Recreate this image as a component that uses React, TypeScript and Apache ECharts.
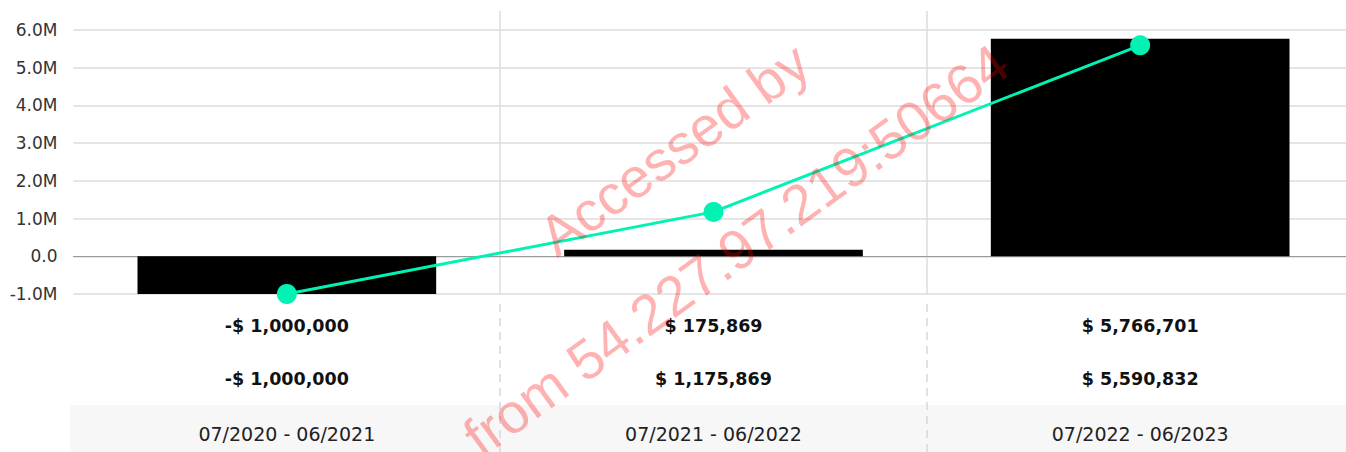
import React, { useEffect, useRef } from 'react';
import * as echarts from 'echarts';

const periods = ['07/2020 - 06/2021', '07/2021 - 06/2022', '07/2022 - 06/2023'];
const periodValues = [-1000000, 175869, 5766701];
const cumulativeValues = [-1000000, 1175869, 5590832];
const watermarkLines = ['Accessed by', 'from 54.227.97.219:50664'];

const fmtMoney = (v: number) =>
  (v < 0 ? '-' : '') + '$ ' + Math.abs(v).toLocaleString('en-US');

const fmtAxis = (v: number) => (v === 0 ? '0.0' : (v / 1e6).toFixed(1) + 'M');

const FONT = '"DejaVu Sans", sans-serif';

export default function App() {
  const ref = useRef<HTMLDivElement>(null);

  useEffect(() => {
    if (!ref.current) return;
    const chart = echarts.init(ref.current, undefined, { renderer: 'svg' });
    const deg = (d: number) => (d * Math.PI) / 180;
    chart.setOption({
      animation: false,
      backgroundColor: '#ffffff',
      grid: [
        { left: 73.5, width: 1280, top: 11, height: 283, outerBoundsMode: 'none', containLabel: false },
        { left: 73.5, width: 1280, top: 304, bottom: 0, outerBoundsMode: 'none', containLabel: false },
        {
          left: 70, width: 1290, top: 405, bottom: 0, show: true,
          backgroundColor: '#f7f7f7', borderWidth: 0, outerBoundsMode: 'none',
        },
      ],
      xAxis: [
        {
          type: 'category', gridIndex: 0, data: periods, boundaryGap: true,
          axisLine: { onZero: true, lineStyle: { color: '#9a9a9a', width: 1 } },
          axisTick: { show: false },
          axisLabel: { show: false },
          splitLine: {
            show: true, interval: 0, showMinLine: false,
            lineStyle: { color: '#dcdcdc', width: 1.5 },
          },
        },
        {
          type: 'category', gridIndex: 1, data: periods, boundaryGap: true,
          position: 'top',
          axisLine: { show: false },
          axisTick: { show: false },
          axisLabel: {
            show: true, inside: true, margin: 0, interval: 0,
            formatter: (value: string, index: number) =>
              `{a|${fmtMoney(periodValues[index])}}\n{b|${fmtMoney(cumulativeValues[index])}}\n{c|${value}}`,
            rich: {
              a: { fontFamily: FONT, fontWeight: 'bold', fontSize: 17.5, color: '#111', lineHeight: 44 },
              b: { fontFamily: FONT, fontWeight: 'bold', fontSize: 17.5, color: '#111', lineHeight: 62 },
              c: { fontFamily: FONT, fontWeight: 'normal', fontSize: 19, color: '#222', lineHeight: 48 },
            },
          },
          splitLine: {
            show: true, interval: 0, showMinLine: false,
            lineStyle: { color: '#d8d8d8', width: 1.5, type: [8, 6] },
          },
          z: 3,
        },
        { type: 'category', gridIndex: 2, data: periods, show: false },
      ],
      yAxis: [
        {
          type: 'value', gridIndex: 0, min: -1000000, max: 6500000, interval: 1000000,
          axisLine: { show: false },
          axisTick: { show: false },
          axisLabel: {
            fontFamily: FONT, fontSize: 17, color: '#333', margin: 16,
            showMaxLabel: false,
            formatter: (v: number) => (v > 6000000 ? '' : fmtAxis(v)),
          },
          splitLine: {
            show: true, showMaxLine: false,
            lineStyle: { color: '#dcdcdc', width: 1.5 },
          },
        },
        { type: 'value', gridIndex: 1, show: false },
        { type: 'value', gridIndex: 2, show: false },
      ],
      series: [
        {
          type: 'bar', xAxisIndex: 0, yAxisIndex: 0, data: periodValues,
          barWidth: '70%', itemStyle: { color: '#000000' },
        },
        {
          type: 'line', xAxisIndex: 0, yAxisIndex: 0, data: cumulativeValues,
          symbol: 'circle', symbolSize: 20,
          lineStyle: { color: '#02f2b4', width: 3 },
          itemStyle: { color: '#02f2b4' },
          z: 5,
        },
      ],
      graphic: [
        {
          type: 'text', x: 674, y: 149, rotation: deg(36), z: 100, silent: true,
          style: {
            text: watermarkLines[0], fontFamily: 'Liberation Sans', fontSize: 56,
            fill: 'rgba(255,0,0,0.3)', align: 'center', verticalAlign: 'middle',
          },
        },
        {
          type: 'text', x: 736, y: 250, rotation: deg(36), z: 100, silent: true,
          style: {
            text: watermarkLines[1], fontFamily: 'Liberation Sans', fontSize: 56,
            fill: 'rgba(255,0,0,0.3)', align: 'center', verticalAlign: 'middle',
          },
        },
      ],
    });
    return () => chart.dispose();
  }, []);

  return (
    <div
      ref={ref}
      style={{ position: 'absolute', left: 0, top: 0, width: 1346, height: 452 }}
    />
  );
}
